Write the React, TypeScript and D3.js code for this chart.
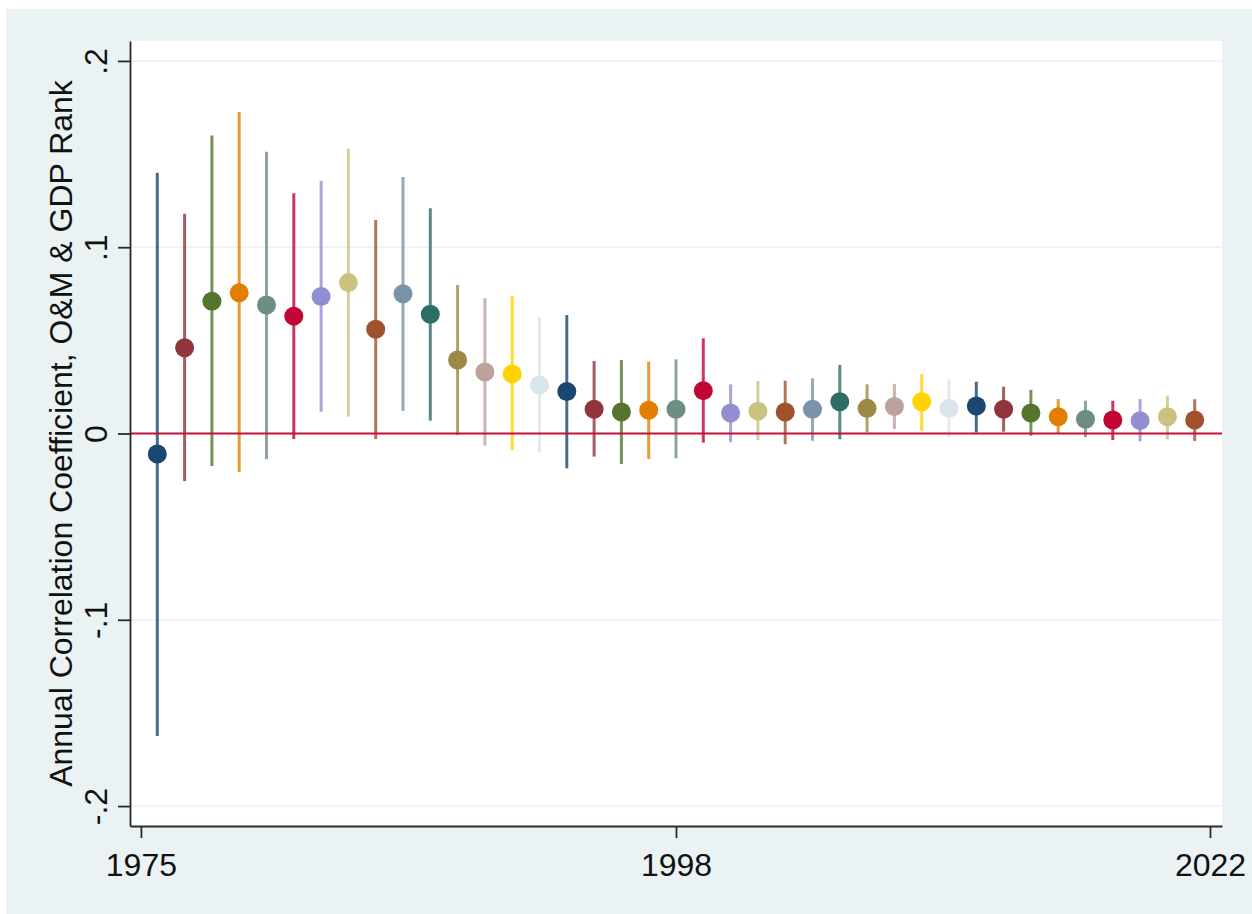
import { useRef, useEffect } from "react";
import * as d3 from "d3";

// one coefficient per year, plotted at positions 1..39
const positions = d3.range(1, 40);

const coef = [
  -0.011, 0.046, 0.071, 0.0755, 0.069, 0.063, 0.0735, 0.081, 0.056, 0.075,
  0.064, 0.0395, 0.033, 0.032, 0.026, 0.0225, 0.013, 0.0115, 0.0125, 0.013,
  0.023, 0.011, 0.012, 0.0115, 0.013, 0.017, 0.0135, 0.0145, 0.017, 0.0135,
  0.0148, 0.013, 0.011, 0.009, 0.0076, 0.0072, 0.0069, 0.009, 0.0072,
];

const ciHigh = [
  0.14, 0.118, 0.16, 0.1726, 0.1513, 0.129, 0.1356, 0.1528, 0.1146, 0.1377,
  0.1209, 0.0797, 0.0726, 0.074, 0.0624, 0.0636, 0.0389, 0.0395, 0.0386, 0.0398,
  0.0511, 0.0264, 0.0282, 0.0283, 0.0296, 0.0368, 0.0264, 0.0266, 0.032, 0.0291,
  0.0278, 0.0251, 0.0234, 0.0185, 0.0176, 0.0176, 0.0185, 0.0203, 0.0184,
];

const ciLow = [
  -0.1624, -0.0255, -0.0175, -0.0207, -0.0137, -0.003, 0.0117, 0.009, -0.003, 0.0121,
  0.0069, -0.0008, -0.0065, -0.0089, -0.0101, -0.0187, -0.0124, -0.0164, -0.0137, -0.0133,
  -0.0049, -0.0047, -0.0035, -0.0058, -0.0039, -0.0031, 0.0006, 0.0024, 0.0015, -0.002,
  0.0006, 0.001, -0.0012, -0.0003, -0.002, -0.0035, -0.0042, -0.0031, -0.004,
];

// Stata s2color palette, cycled
const palette = [
  "#1a476f", "#90353b", "#55752f", "#e37e00", "#6e8e84",
  "#c10534", "#938dd2", "#cac27e", "#a0522d", "#7b92a8",
  "#2d6d66", "#9c8847", "#bfa19c", "#ffd200", "#d9e6eb",
];

const yTicks = [-0.2, -0.1, 0, 0.1, 0.2];
const yTickLabels = ["-.2", "-.1", "0", ".1", ".2"];
const xTickPos = [0.4, 20, 39.56];
const xTickLabels = ["1975", "1998", "2022"];
const yTitle = "Annual Correlation Coefficient, O&M & GDP Rank";

const W = 1252;
const H = 914;
const plot = { left: 130, right: 1222, top: 41, bottom: 826 };
const font = "'Liberation Sans', Arial, sans-serif";

const CoefChart = () => {
  const svgRef = useRef<SVGSVGElement>(null);

  useEffect(() => {
    const svg = d3.select(svgRef.current).attr("width", W).attr("height", H);
    svg.selectAll("*").remove();

    const x = d3.scaleLinear().domain([0, 40]).range([plot.left, plot.right]);
    const y = d3
      .scaleLinear()
      .domain([-0.2107, 0.2107])
      .range([plot.bottom, plot.top]);

    // background panel and plot region
    svg.append("rect").attr("x", 6).attr("y", 9).attr("width", W - 6).attr("height", H - 9).attr("fill", "#eaf2f3");
    svg
      .append("rect")
      .attr("x", plot.left)
      .attr("y", plot.top)
      .attr("width", plot.right - plot.left)
      .attr("height", plot.bottom - plot.top)
      .attr("fill", "#fff");

    // gridlines
    svg
      .append("g")
      .selectAll("line")
      .data(yTicks)
      .join("line")
      .attr("x1", plot.left)
      .attr("x2", plot.right)
      .attr("y1", (d) => y(d))
      .attr("y2", (d) => y(d))
      .attr("stroke", "#eaf2f3")
      .attr("stroke-width", 1.5);

    // confidence intervals
    svg
      .append("g")
      .selectAll("line")
      .data(positions)
      .join("line")
      .attr("x1", (d) => x(d))
      .attr("x2", (d) => x(d))
      .attr("y1", (d, i) => y(ciLow[i]))
      .attr("y2", (d, i) => y(ciHigh[i]))
      .attr("stroke", (d, i) => palette[i % palette.length])
      .attr("stroke-opacity", 0.8)
      .attr("stroke-width", 3);

    // zero reference line
    svg
      .append("line")
      .attr("x1", plot.left)
      .attr("x2", plot.right)
      .attr("y1", y(0))
      .attr("y2", y(0))
      .attr("stroke", "#c8103a")
      .attr("stroke-width", 2.2);

    // point estimates
    svg
      .append("g")
      .selectAll("circle")
      .data(positions)
      .join("circle")
      .attr("cx", (d) => x(d))
      .attr("cy", (d, i) => y(coef[i]))
      .attr("r", 9.5)
      .attr("fill", (d, i) => palette[i % palette.length]);

    // axes
    const yAxis = svg
      .append("g")
      .attr("transform", `translate(${plot.left},0)`)
      .call(
        d3
          .axisLeft(y)
          .tickValues(yTicks)
          .tickSize(12)
          .tickSizeOuter(0)
          .tickFormat((d, i) => yTickLabels[i])
      );
    yAxis
      .selectAll("text")
      .attr("x", null)
      .attr("dy", null)
      .attr("transform", "translate(-23,0) rotate(-90)")
      .attr("text-anchor", "middle");

    const xAxis = svg
      .append("g")
      .attr("transform", `translate(0,${plot.bottom})`)
      .call(
        d3
          .axisBottom(x)
          .tickValues(xTickPos)
          .tickSize(12)
          .tickSizeOuter(0)
          .tickFormat((d, i) => xTickLabels[i])
      );
    xAxis.selectAll("text").attr("y", 50).attr("dy", null);

    [xAxis, yAxis].forEach((g) => {
      g.selectAll("path, line").attr("stroke", "#2a2a2a").attr("stroke-width", 1.8);
      g.selectAll("text").attr("font-family", font).attr("font-size", 32).attr("fill", "#111");
    });

    svg
      .append("text")
      .attr("transform", `translate(72,${(plot.top + plot.bottom) / 2}) rotate(-90)`)
      .attr("text-anchor", "middle")
      .attr("font-family", font)
      .attr("font-size", 32)
      .attr("fill", "#111")
      .text(yTitle);
  }, []);

  return <svg ref={svgRef} style={{ position: "absolute", left: 0, top: 0 }}></svg>;
};

export default function App() {
  return <CoefChart />;
}
